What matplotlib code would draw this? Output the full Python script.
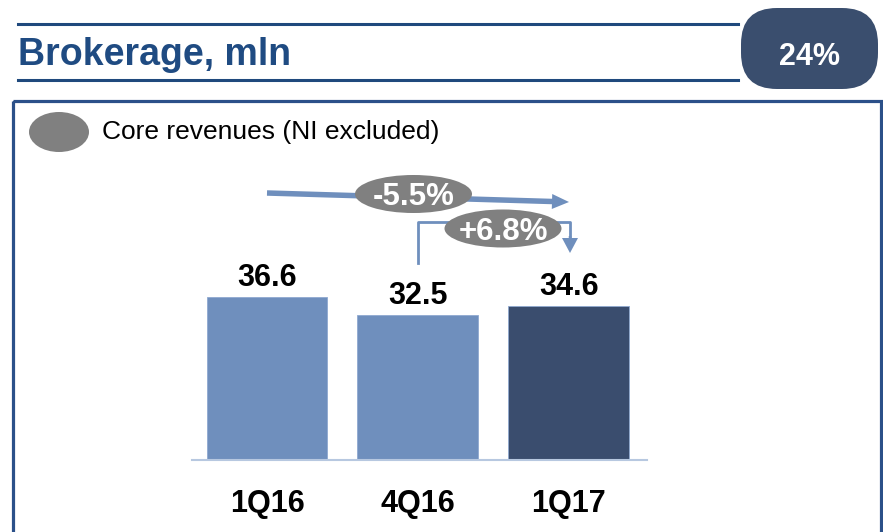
import matplotlib
matplotlib.use("Agg")
import matplotlib.pyplot as plt
from matplotlib.patches import Rectangle, FancyBboxPatch, Ellipse, FancyArrow
from matplotlib.lines import Line2D

plt.rcParams["font.family"] = ["Liberation Sans", "DejaVu Sans"]

# data
categories = ["1Q16", "4Q16", "1Q17"]
values = [36.6, 32.5, 34.6]
bar_colors = ["#6f8fbd", "#6f8fbd", "#3a4d6e"]
growth_labels = ["-5.5%", "+6.8%"]
title = "Brokerage, mln"
badge = "24%"
legend_label = "Core revenues (NI excluded)"

W, H = 883, 532
fig = plt.figure(figsize=(W / 100, H / 100), dpi=100)

# overlay in pixel coords for the slide decorations
ov = fig.add_axes([0, 0, 1, 1], zorder=1)
ov.set_xlim(0, W); ov.set_ylim(H, 0); ov.axis("off")
ov.patch.set_alpha(0)

NAVY = "#1f497d"
for yy in (24, 80):
    ov.add_line(Line2D([18, 738], [yy, yy], color=NAVY, lw=2.2))
ov.text(18, 65, title, ha="left", va="baseline", fontsize=27,
        fontweight="bold", color="#1f4b82")

ov.add_patch(FancyBboxPatch((741, 8), 137, 81,
             boxstyle="round,pad=0,rounding_size=36", fc="#3a4e6e", ec="none"))
ov.text(810, 65, badge, ha="center", va="baseline", fontsize=22,
        fontweight="bold", color="white")

# panel frame
ov.add_patch(Rectangle((13, 100.5), 868, 460, fc="none", ec="#2b5089", lw=2.3))

# legend marker
ov.add_patch(Ellipse((59, 132), 60, 40, fc="#808080", ec="none"))
ov.text(102, 139, legend_label, ha="left", va="baseline", fontsize=19, color="black")

# growth arrows
ARROW = "#6f8fbd"
ov.add_patch(FancyArrow(267, 193, 302, 9, width=5.5, head_width=15, head_length=17,
             length_includes_head=True, fc=ARROW, ec="none", zorder=2))
ov.add_line(Line2D([418, 418, 570, 570], [263, 222, 222, 240], color=ARROW, lw=2, zorder=2))
ov.add_patch(FancyArrow(570, 236, 0, 17, width=2.5, head_width=16, head_length=15,
             length_includes_head=True, fc=ARROW, ec="none", zorder=2))

for (cx, cy), lab in zip([(413.5, 194), (503, 228.5)], growth_labels):
    ov.add_patch(Ellipse((cx, cy), 117, 38, fc="#808080", ec="none", zorder=3))
    ov.text(cx, cy + 11, lab, ha="center", va="baseline", fontsize=22.5,
            fontweight="bold", color="white", zorder=4)

# bar chart
ax = fig.add_axes([192 / W, (H - 460) / H, (647 - 192) / W, 360 / H], zorder=2)
ax.patch.set_alpha(0)
x = list(range(len(categories)))
ax.bar(x, values, width=0.8, color=bar_colors, edgecolor="#8fa9d0", linewidth=0.6)
ax.set_xlim(-0.4975, 2.52)
ax.set_ylim(0, 360 / 4.455)
for xi, v in zip(x, values):
    ax.annotate(f"{v:.1f}", (xi, v), xytext=(0, 8), textcoords="offset points",
                ha="center", va="baseline", fontsize=22, fontweight="bold")

for xi, c in zip(x, categories):
    ax.annotate(c, (xi, 0), xytext=(0, -37.4), textcoords="offset points",
                ha="center", va="baseline", fontsize=22, fontweight="bold")

for s in ("top", "right", "left"):
    ax.spines[s].set_visible(False)
ax.spines["bottom"].set_color("#b7c8e0")
ax.spines["bottom"].set_linewidth(1.5)
ax.set_xticks([]); ax.set_yticks([])

fig.savefig("out.png", dpi=100)
